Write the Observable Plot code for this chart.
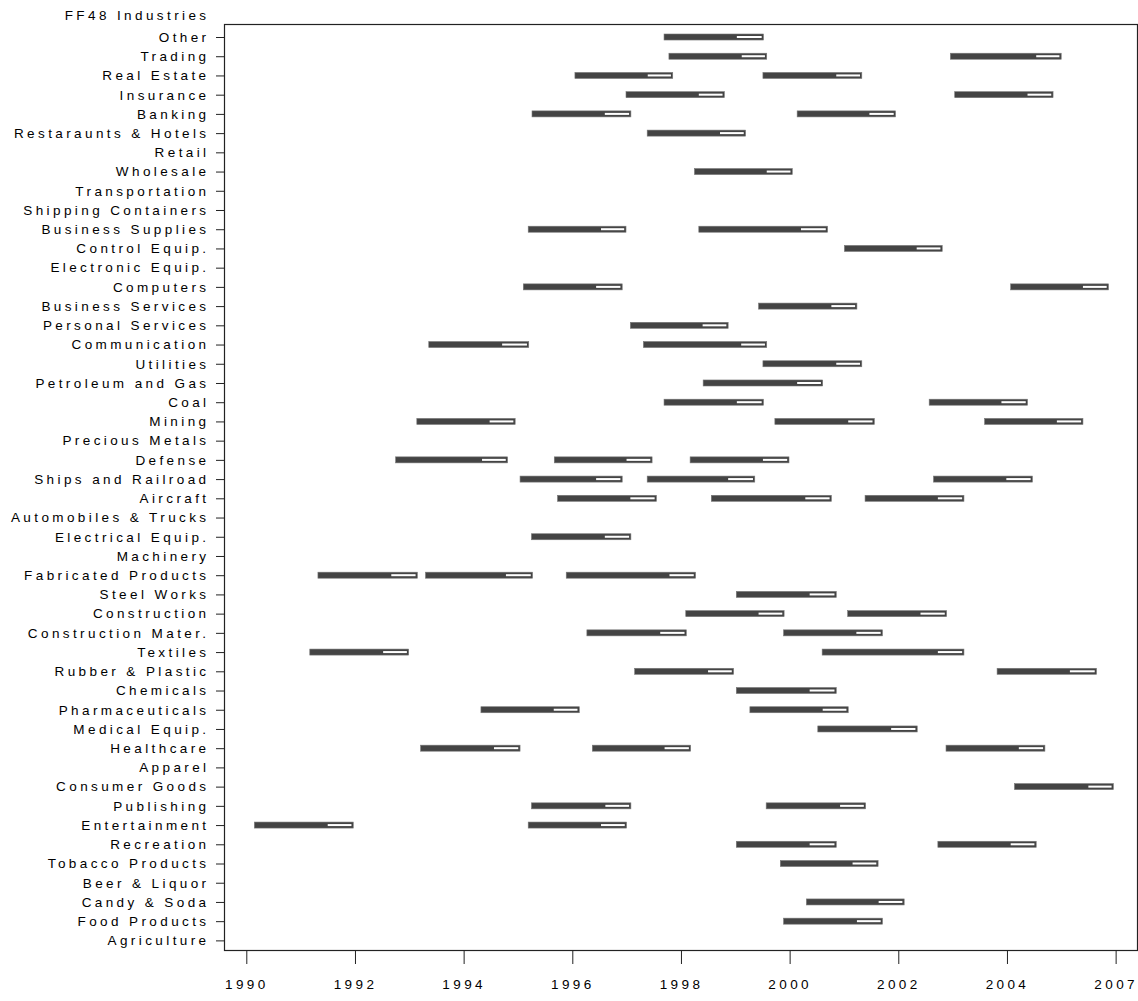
<!DOCTYPE html>
<html>
<head>
<meta charset="utf-8">
<script src="https://cdn.jsdelivr.net/npm/d3@7"></script>
<script src="https://cdn.jsdelivr.net/npm/@observablehq/plot@0.6"></script>
<style>
  html, body { margin: 0; padding: 0; background: #fff; }
  #chart svg { display: block; }
</style>
</head>
<body>
<div id="chart"></div>
<script>
// Industry rows, top to bottom
const industries = [
  "Other", "Trading", "Real Estate", "Insurance", "Banking", "Restaraunts & Hotels",
  "Retail", "Wholesale", "Transportation", "Shipping Containers", "Business Supplies",
  "Control Equip.", "Electronic Equip.", "Computers", "Business Services",
  "Personal Services", "Communication", "Utilities", "Petroleum and Gas", "Coal",
  "Mining", "Precious Metals", "Defense", "Ships and Railroad", "Aircraft",
  "Automobiles & Trucks", "Electrical Equip.", "Machinery", "Fabricated Products",
  "Steel Works", "Construction", "Construction Mater.", "Textiles", "Rubber & Plastic",
  "Chemicals", "Pharmaceuticals", "Medical Equip.", "Healthcare", "Apparel",
  "Consumer Goods", "Publishing", "Entertainment", "Recreation", "Tobacco Products",
  "Beer & Liquor", "Candy & Soda", "Food Products", "Agriculture"
];

// Each bar: industry, start year, year where the white (last) part begins, end year
const barIndustry = [
  "Other", "Trading", "Trading", "Real Estate", "Real Estate", "Insurance", "Insurance",
  "Banking", "Banking", "Restaraunts & Hotels", "Wholesale", "Business Supplies",
  "Business Supplies", "Control Equip.", "Computers", "Computers", "Business Services",
  "Personal Services", "Communication", "Communication", "Utilities", "Petroleum and Gas",
  "Coal", "Coal", "Mining", "Mining", "Mining", "Defense", "Defense", "Defense",
  "Ships and Railroad", "Ships and Railroad", "Ships and Railroad", "Aircraft", "Aircraft",
  "Aircraft", "Electrical Equip.", "Fabricated Products", "Fabricated Products",
  "Fabricated Products", "Steel Works", "Construction", "Construction",
  "Construction Mater.", "Construction Mater.", "Textiles", "Textiles",
  "Rubber & Plastic", "Rubber & Plastic", "Chemicals", "Pharmaceuticals",
  "Pharmaceuticals", "Medical Equip.", "Healthcare", "Healthcare", "Healthcare",
  "Consumer Goods", "Publishing", "Publishing", "Entertainment", "Entertainment",
  "Recreation", "Recreation", "Tobacco Products", "Candy & Soda", "Food Products"
];
const startYear = [
  1997.67, 1997.76, 2002.94, 1996.03, 1999.49, 1996.97, 2003.02,
  1995.24, 2000.12, 1997.36, 1998.23, 1995.17,
  1998.31, 2000.99, 1995.08, 2004.05, 1999.41,
  1997.05, 1993.34, 1997.29, 1999.49, 1998.39,
  1997.67, 2002.55, 1993.12, 1999.71, 2003.57, 1992.73, 1995.65, 1998.15,
  1995.02, 1997.36, 2002.63, 1995.71, 1998.54,
  2001.37, 1995.23, 1991.30, 1993.28,
  1995.87, 1999.00, 1998.07, 2001.05,
  1996.25, 1999.87, 1991.15, 2000.58,
  1997.13, 2003.80, 1999.00, 1994.30,
  1999.25, 2000.50, 1993.19, 1996.35, 2002.86,
  2004.12, 1995.23, 1999.55, 1990.13, 1995.17,
  1999.00, 2002.71, 1999.81, 2000.29, 1999.87
];
const splitYear = [
  1999.01, 1999.10, 2004.52, 1997.37, 2000.84, 1998.31, 2004.36,
  1996.58, 2001.45, 1998.70, 1999.56, 1996.51,
  2000.19, 2002.32, 1996.42, 2005.38, 2000.75,
  1998.38, 1994.69, 1999.09, 2000.84, 2000.12,
  1999.01, 2003.88, 1994.46, 2001.06, 2004.90, 1994.32, 1996.98, 1999.49,
  1996.42, 1998.85, 2003.97, 1997.05, 2000.27,
  2002.71, 1996.58, 1992.65, 1994.76,
  1997.77, 2000.35, 1999.41, 2002.39,
  1997.60, 2001.21, 1992.50, 2002.71,
  1998.48, 2005.14, 2000.35, 1995.64,
  2000.59, 2001.85, 1994.54, 1997.68, 2004.20,
  2005.48, 1996.59, 2000.91, 1991.48, 1996.51,
  2000.35, 2004.05, 2001.14, 2001.62, 2001.22
];
const endYear = [
  1999.50, 1999.56, 2004.98, 1997.83, 2001.31, 1998.78, 2004.83,
  1997.06, 2001.93, 1999.17, 2000.03, 1996.97,
  2000.68, 2002.79, 1996.90, 2005.85, 2001.22,
  1998.85, 1995.18, 1999.56, 2001.31, 2000.59,
  1999.50, 2004.36, 1994.93, 2001.54, 2005.38, 1994.79, 1997.45, 1999.97,
  1996.90, 1999.34, 2004.45, 1997.53, 2000.75,
  2003.19, 1997.06, 1993.13, 1995.25,
  1998.25, 2000.84, 1999.88, 2002.87,
  1998.08, 2001.69, 1992.97, 2003.19,
  1998.95, 2005.63, 2000.84, 1996.11,
  2001.06, 2002.33, 1995.02, 1998.16, 2004.68,
  2005.94, 1997.06, 2001.38, 1991.95, 1996.98,
  2000.84, 2004.52, 2001.61, 2002.09, 2001.69
];

// X-axis ticks (positions) and their printed labels
const xTicks = [1990, 1992, 1994, 1996, 1998, 2000, 2002, 2004, 2006];
const xTickLabels = ["1990", "1992", "1994", "1996", "1998", "2000", "2002", "2004", "2007"];

const bars = barIndustry.map((ind, i) => ({
  industry: ind, start: startYear[i], split: splitYear[i], end: endYear[i]
}));

const chart = Plot.plot({
  width: 1138,
  height: 1001,
  marginLeft: 224,
  marginRight: 1,
  marginTop: 24,
  marginBottom: 51,
  style: {
    fontFamily: "'Liberation Sans', Arial, sans-serif",
    fontSize: "13.5px",
    letterSpacing: "3.4px",
    color: "#000",
    background: "#fff"
  },
  x: { domain: [1989.571, 2006.375] },
  y: { type: "band", domain: industries, padding: 0, round: false, insetTop: 3.4 },
  marks: [
    Plot.frame({ stroke: "#222", strokeWidth: 1.2 }),
    Plot.axisX({
      ticks: xTicks,
      tickFormat: d => xTickLabels[xTicks.indexOf(d)],
      tickSize: 14,
      tickPadding: 15,
      label: null,
      stroke: "#222",
      dx: -1
    }),
    Plot.axisY({
      tickSize: 8,
      tickPadding: 7,
      label: null,
      stroke: "#222"
    }),
    Plot.barX(bars, {
      y: "industry", x1: "start", x2: "end",
      fill: "#444", stroke: "#777", strokeWidth: 0.6,
      insetTop: 6.6, insetBottom: 6.6
    }),
    Plot.barX(bars, {
      y: "industry", x1: "split", x2: "end",
      fill: "#fff",
      insetTop: 8.6, insetBottom: 8.6, insetRight: 1.8
    }),
    Plot.text(["FF48 Industries"], {
      frameAnchor: "top-left",
      textAnchor: "end",
      lineAnchor: "middle",
      dx: -15,
      dy: -9,
      fill: "#000"
    })
  ]
});

document.getElementById("chart").appendChild(chart);
</script>
</body>
</html>
